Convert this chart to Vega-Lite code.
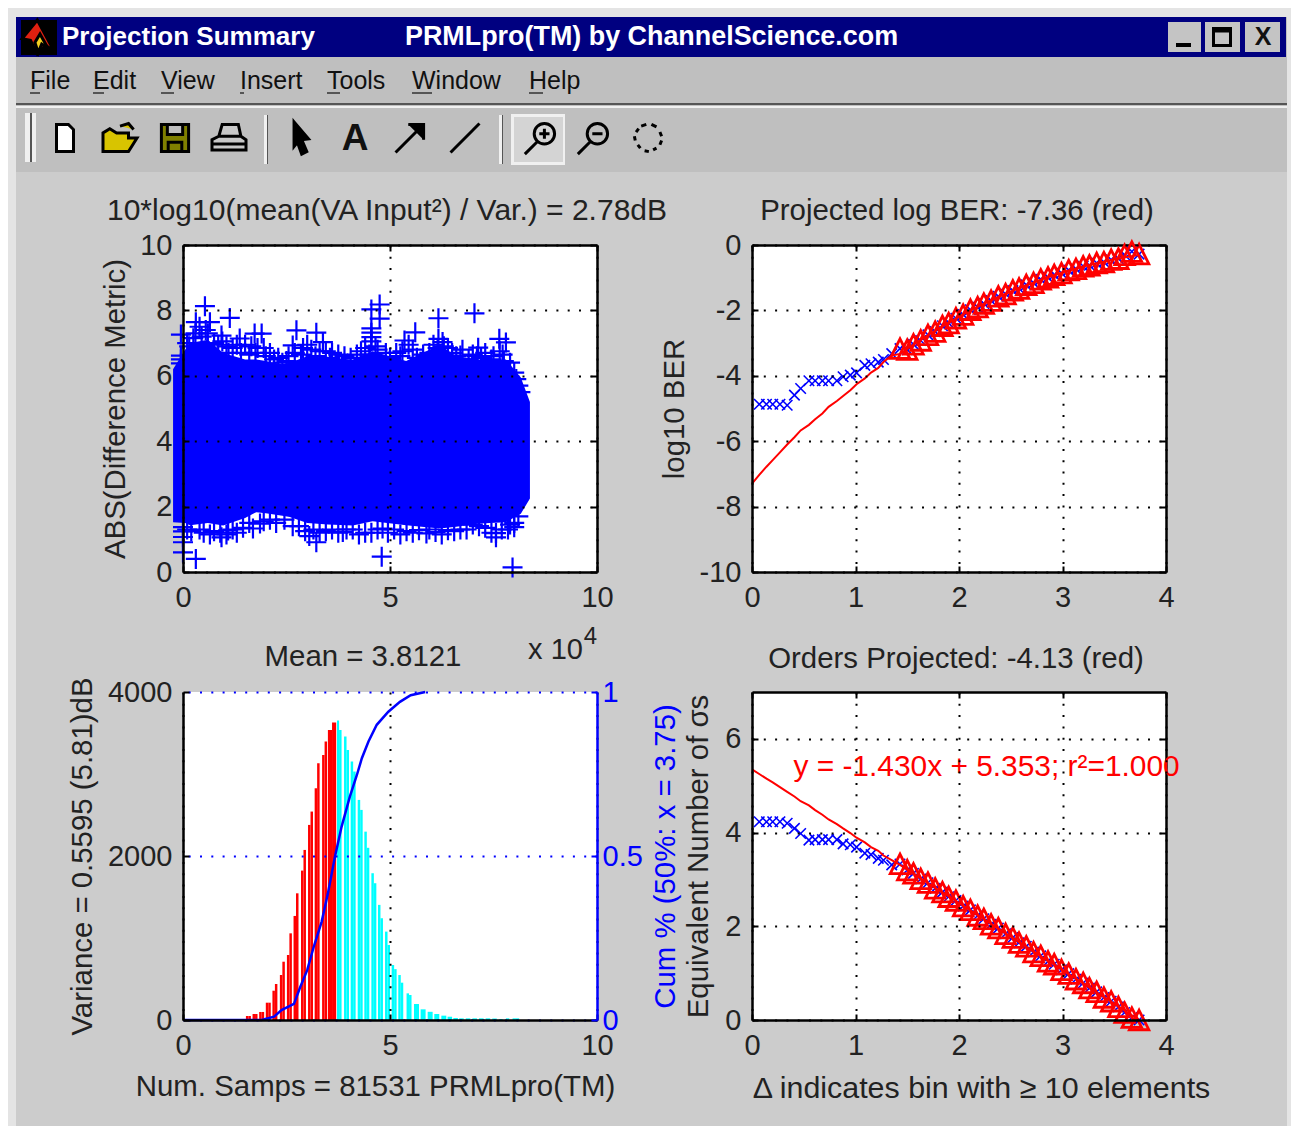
{
"$schema":"https://vega.github.io/schema/vega-lite/v6.json",
"background":"white","padding":0,"bounds":"flush","spacing":120,
"config":{"view":{"stroke":null},"font":"Liberation Sans",
"axis":{"labelFont":"Liberation Sans","labelFontSize":29,"labelColor":"#222222","labelExpr":"toString(datum.value)","titleFont":"Liberation Sans","titleFontSize":29.4,"titleFontWeight":"normal","titleColor":"#222222","tickColor":"#000000","tickWidth":2,"tickSize":-6,"domainColor":"#000000","domainWidth":2.5,"labelFlush":false,"labelOverlap":false,"labelBound":false,"gridColor":"#000000","gridWidth":2,"gridDash":[2,9.3],"gridOpacity":1},
"title":{"font":"Liberation Sans","fontSize":29.4,"fontWeight":"normal","color":"#222222"},
"text":{"font":"Liberation Sans"}},
"datasets":{
"trend":[
{"x":0,"ber":null,"berfit":-7.3,"sig":null,"sigfit":5.35},
{"x":0.07,"ber":-4.87,"berfit":-7.03,"sig":4.23,"sigfit":5.25},
{"x":0.14,"ber":-4.87,"berfit":-6.78,"sig":4.23,"sigfit":5.15},
{"x":0.2,"ber":-4.87,"berfit":-6.58,"sig":4.23,"sigfit":5.07},
{"x":0.27,"ber":-4.87,"berfit":-6.34,"sig":4.23,"sigfit":4.97},
{"x":0.34,"ber":-4.9,"berfit":-6.1,"sig":4.2,"sigfit":4.87},
{"x":0.41,"ber":-4.59,"berfit":-5.88,"sig":4.09,"sigfit":4.77},
{"x":0.47,"ber":-4.39,"berfit":-5.67,"sig":3.98,"sigfit":4.67},
{"x":0.55,"ber":-4.15,"berfit":-5.5,"sig":3.84,"sigfit":4.58},
{"x":0.61,"ber":-4.15,"berfit":-5.33,"sig":3.85,"sigfit":4.48},
{"x":0.68,"ber":-4.15,"berfit":-5.15,"sig":3.85,"sigfit":4.38},
{"x":0.74,"ber":-4.15,"berfit":-4.95,"sig":3.85,"sigfit":4.28},
{"x":0.82,"ber":-4.15,"berfit":-4.77,"sig":3.85,"sigfit":4.18},
{"x":0.88,"ber":-4.03,"berfit":-4.62,"sig":3.76,"sigfit":4.09},
{"x":0.95,"ber":-3.98,"berfit":-4.44,"sig":3.74,"sigfit":3.99},
{"x":1.01,"ber":-3.91,"berfit":-4.26,"sig":3.69,"sigfit":3.89},
{"x":1.09,"ber":-3.68,"berfit":-4.08,"sig":3.56,"sigfit":3.79},
{"x":1.15,"ber":-3.63,"berfit":-3.9,"sig":3.53,"sigfit":3.69},
{"x":1.22,"ber":-3.58,"berfit":-3.76,"sig":3.45,"sigfit":3.61},
{"x":1.27,"ber":-3.5,"berfit":-3.58,"sig":3.41,"sigfit":3.51},
{"x":1.35,"ber":-3.32,"berfit":-3.38,"sig":3.31,"sigfit":3.41},
{"x":1.43,"ber":-3.17,"berfit":-3.33,"sig":3.33,"sigfit":3.31},
{"x":1.5,"ber":-3.2,"berfit":-3.18,"sig":3.2,"sigfit":3.21},
{"x":1.56,"ber":-3.04,"berfit":-3.05,"sig":3.13,"sigfit":3.12},
{"x":1.63,"ber":-2.92,"berfit":-2.9,"sig":3.01,"sigfit":3.02},
{"x":1.7,"ber":-2.75,"berfit":-2.76,"sig":2.93,"sigfit":2.92},
{"x":1.77,"ber":-2.65,"berfit":-2.63,"sig":2.81,"sigfit":2.82},
{"x":1.84,"ber":-2.47,"berfit":-2.49,"sig":2.73,"sigfit":2.72},
{"x":1.9,"ber":-2.39,"berfit":-2.38,"sig":2.63,"sigfit":2.64},
{"x":1.97,"ber":-2.24,"berfit":-2.25,"sig":2.55,"sigfit":2.54},
{"x":2.04,"ber":-2.13,"berfit":-2.12,"sig":2.43,"sigfit":2.44},
{"x":2.11,"ber":-1.98,"berfit":-2,"sig":2.35,"sigfit":2.34},
{"x":2.18,"ber":-1.9,"berfit":-1.89,"sig":2.23,"sigfit":2.24},
{"x":2.24,"ber":-1.79,"berfit":-1.8,"sig":2.16,"sigfit":2.15},
{"x":2.31,"ber":-1.7,"berfit":-1.69,"sig":2.04,"sigfit":2.05},
{"x":2.38,"ber":-1.57,"berfit":-1.59,"sig":1.96,"sigfit":1.95},
{"x":2.45,"ber":-1.5,"berfit":-1.49,"sig":1.84,"sigfit":1.85},
{"x":2.52,"ber":-1.39,"berfit":-1.4,"sig":1.76,"sigfit":1.75},
{"x":2.58,"ber":-1.33,"berfit":-1.32,"sig":1.65,"sigfit":1.66},
{"x":2.65,"ber":-1.22,"berfit":-1.23,"sig":1.57,"sigfit":1.56},
{"x":2.72,"ber":-1.16,"berfit":-1.15,"sig":1.45,"sigfit":1.46},
{"x":2.79,"ber":-1.05,"berfit":-1.06,"sig":1.37,"sigfit":1.36},
{"x":2.86,"ber":-0.99,"berfit":-0.98,"sig":1.25,"sigfit":1.26},
{"x":2.92,"ber":-0.91,"berfit":-0.92,"sig":1.19,"sigfit":1.18},
{"x":2.99,"ber":-0.86,"berfit":-0.85,"sig":1.07,"sigfit":1.08},
{"x":3.06,"ber":-0.77,"berfit":-0.78,"sig":0.99,"sigfit":0.98},
{"x":3.13,"ber":-0.73,"berfit":-0.72,"sig":0.87,"sigfit":0.88},
{"x":3.2,"ber":-0.65,"berfit":-0.66,"sig":0.79,"sigfit":0.78},
{"x":3.26,"ber":-0.62,"berfit":-0.61,"sig":0.68,"sigfit":0.69},
{"x":3.33,"ber":-0.55,"berfit":-0.56,"sig":0.6,"sigfit":0.59},
{"x":3.4,"ber":-0.52,"berfit":-0.51,"sig":0.48,"sigfit":0.49},
{"x":3.47,"ber":-0.45,"berfit":-0.46,"sig":0.4,"sigfit":0.39},
{"x":3.54,"ber":-0.42,"berfit":-0.42,"sig":0.28,"sigfit":0.29},
{"x":3.6,"ber":-0.3,"berfit":-0.38,"sig":0.16,"sigfit":0.2},
{"x":3.67,"ber":-0.2,"berfit":-0.34,"sig":0.05,"sigfit":0.1},
{"x":3.74,"ber":-0.28,"berfit":-0.3,"sig":0,"sigfit":0}
],
"hist":[
{"a":1.52,"b":1.58,"n":49,"side":"below"},{"a":1.58,"b":1.64,"n":49,"side":"below"},
{"a":1.68,"b":1.74,"n":73,"side":"below"},{"a":1.74,"b":1.8,"n":73,"side":"below"},
{"a":1.84,"b":1.9,"n":98,"side":"below"},{"a":1.9,"b":1.96,"n":98,"side":"below"},
{"a":2,"b":2.06,"n":211,"side":"below"},{"a":2.06,"b":2.12,"n":211,"side":"below"},
{"a":2.16,"b":2.22,"n":357,"side":"below"},{"a":2.22,"b":2.28,"n":439,"side":"below"},
{"a":2.34,"b":2.4,"n":549,"side":"below"},{"a":2.4,"b":2.46,"n":711,"side":"below"},
{"a":2.51,"b":2.57,"n":793,"side":"below"},{"a":2.57,"b":2.63,"n":1057,"side":"below"},
{"a":2.67,"b":2.73,"n":1269,"side":"below"},{"a":2.73,"b":2.79,"n":1545,"side":"below"},
{"a":2.85,"b":2.91,"n":1822,"side":"below"},{"a":2.91,"b":2.97,"n":2074,"side":"below"},
{"a":3.02,"b":3.08,"n":2379,"side":"below"},{"a":3.08,"b":3.14,"n":2542,"side":"below"},
{"a":3.18,"b":3.24,"n":2826,"side":"below"},{"a":3.24,"b":3.3,"n":3131,"side":"below"},
{"a":3.36,"b":3.42,"n":3233,"side":"below"},{"a":3.42,"b":3.48,"n":3396,"side":"below"},
{"a":3.5,"b":3.6,"n":3538,"side":"below"},{"a":3.6,"b":3.7,"n":3628,"side":"below"},
{"a":3.72,"b":3.77,"n":3652,"side":"above"},{"a":3.77,"b":3.83,"n":3538,"side":"above"},
{"a":3.89,"b":3.95,"n":3457,"side":"above"},{"a":3.95,"b":4.01,"n":3294,"side":"above"},
{"a":4.05,"b":4.11,"n":3152,"side":"above"},{"a":4.11,"b":4.17,"n":3030,"side":"above"},
{"a":4.22,"b":4.28,"n":2684,"side":"above"},{"a":4.28,"b":4.34,"n":2562,"side":"above"},
{"a":4.38,"b":4.44,"n":2297,"side":"above"},{"a":4.44,"b":4.5,"n":2100,"side":"above"},
{"a":4.55,"b":4.61,"n":1790,"side":"above"},{"a":4.61,"b":4.67,"n":1668,"side":"above"},
{"a":4.71,"b":4.77,"n":1404,"side":"above"},{"a":4.77,"b":4.83,"n":1241,"side":"above"},
{"a":4.88,"b":4.94,"n":1078,"side":"above"},{"a":4.94,"b":5,"n":915,"side":"above"},
{"a":5.04,"b":5.1,"n":671,"side":"above"},{"a":5.1,"b":5.16,"n":620,"side":"above"},
{"a":5.2,"b":5.26,"n":549,"side":"above"},{"a":5.26,"b":5.32,"n":455,"side":"above"},
{"a":5.4,"b":5.46,"n":325,"side":"above"},{"a":5.46,"b":5.52,"n":305,"side":"above"},
{"a":5.58,"b":5.7,"n":195,"side":"above"},{"a":5.74,"b":5.86,"n":130,"side":"above"},
{"a":5.91,"b":6.03,"n":100,"side":"above"},{"a":6.07,"b":6.19,"n":73,"side":"above"},
{"a":6.24,"b":6.36,"n":53,"side":"above"},{"a":6.39,"b":6.5,"n":40,"side":"above"},
{"a":6.53,"b":6.64,"n":24,"side":"above"},{"a":6.67,"b":6.78,"n":20,"side":"above"},
{"a":6.83,"b":6.94,"n":20,"side":"above"},{"a":6.99,"b":7.1,"n":20,"side":"above"},
{"a":7.15,"b":7.26,"n":20,"side":"above"},{"a":7.31,"b":7.42,"n":20,"side":"above"},
{"a":7.47,"b":7.58,"n":18,"side":"above"},{"a":7.64,"b":7.72,"n":12,"side":"above"},
{"a":7.8,"b":7.88,"n":20,"side":"above"},{"a":7.96,"b":8.12,"n":20,"side":"above"}
],
"cum":[
{"x":0,"p":0},{"x":1.9,"p":0},{"x":2.2,"p":0.01},{"x":2.38,"p":0.03},{"x":2.68,"p":0.049},{"x":2.83,"p":0.1},{"x":3.0,"p":0.152},{"x":3.16,"p":0.224},{"x":3.35,"p":0.3},{"x":3.5,"p":0.386},{"x":3.67,"p":0.498},{"x":3.83,"p":0.589},{"x":4.03,"p":0.681},{"x":4.2,"p":0.747},{"x":4.32,"p":0.798},{"x":4.48,"p":0.849},{"x":4.68,"p":0.9},{"x":4.96,"p":0.94},{"x":5.24,"p":0.97},{"x":5.5,"p":0.99},{"x":5.85,"p":1}
],
"band":[
{"x":-0.24,"lo":1.52,"hi":6.2},{"x":0.05,"lo":1.5,"hi":6.8},{"x":0.17,"lo":1.43,"hi":7},{"x":0.6,"lo":1.5,"hi":7.1},{"x":0.97,"lo":1.42,"hi":6.7},{"x":1.5,"lo":1.65,"hi":6.5},{"x":1.77,"lo":1.83,"hi":6.5},{"x":2.0,"lo":1.8,"hi":6.45},{"x":2.4,"lo":1.72,"hi":6.35},{"x":2.58,"lo":1.68,"hi":6.4},{"x":3.0,"lo":1.5,"hi":6.6},{"x":3.5,"lo":1.45,"hi":6.55},{"x":4.1,"lo":1.42,"hi":6.5},{"x":4.58,"lo":1.55,"hi":6.75},{"x":5.39,"lo":1.43,"hi":6.45},{"x":6.2,"lo":1.33,"hi":6.95},{"x":6.6,"lo":1.38,"hi":6.6},{"x":7.16,"lo":1.48,"hi":6.5},{"x":7.8,"lo":1.52,"hi":6.5},{"x":8.16,"lo":1.78,"hi":5.95},{"x":8.38,"lo":2.25,"hi":5.2}
],
"plus":[
{"x":0.53,"y":8.13},{"x":1.13,"y":7.77},{"x":-0.05,"y":7.26},{"x":0.31,"y":0.4},{"x":0,"y":0.6},{"x":0,"y":0.91},{"x":0,"y":1.07},{"x":0,"y":1.24},{"x":0,"y":1.37},{"x":-0.05,"y":6.62},{"x":-0.05,"y":6.5},{"x":-0.05,"y":6.38},{"x":0.93,"y":1.06},{"x":1.09,"y":1.27},{"x":1.69,"y":1.33},{"x":1.86,"y":1.48},{"x":3.22,"y":0.91},{"x":3.05,"y":1.1},{"x":3.86,"y":1.22},{"x":2.74,"y":7.39},{"x":3.22,"y":7.32},{"x":1.9,"y":7.29},{"x":1.73,"y":7.29},{"x":0.93,"y":7.23},{"x":1.37,"y":7.14},{"x":2.65,"y":6.93},{"x":3.38,"y":7.03},{"x":0.31,"y":7.64},{"x":0.65,"y":7.64},{"x":0.4,"y":7.5},{"x":0.55,"y":7.4},{"x":0.6,"y":7.3},{"x":0.95,"y":7.05},{"x":4.75,"y":8.18},{"x":4.55,"y":8.03},{"x":4.75,"y":7.75},{"x":4.55,"y":7.45},{"x":4.55,"y":7.32},{"x":4.55,"y":7.18},{"x":4.55,"y":7.05},{"x":7.04,"y":7.91},{"x":6.17,"y":7.76},{"x":5.61,"y":7.33},{"x":5.35,"y":7.08},{"x":7.64,"y":7.13},{"x":7.8,"y":7.02},{"x":7.72,"y":6.65},{"x":7.13,"y":6.86},{"x":6.27,"y":7.03},{"x":6.17,"y":7.13},{"x":4.8,"y":0.47},{"x":7.96,"y":0.14},{"x":7.56,"y":1.06},{"x":7.56,"y":1.19},{"x":5.88,"y":1.18},{"x":8,"y":1.37},{"x":4.82,"y":1.33},{"x":6.7,"y":6.62},
{"x":0.1,"y":7},{"x":0.3,"y":7.3},{"x":0.75,"y":7},{"x":1.05,"y":6.9},{"x":1.2,"y":6.85},{"x":1.5,"y":6.95},{"x":1.65,"y":6.9},{"x":1.8,"y":6.85},{"x":2,"y":6.6},{"x":2.2,"y":6.5},{"x":2.4,"y":6.4},{"x":2.55,"y":6.6},{"x":2.9,"y":6.85},{"x":3.1,"y":6.8},{"x":3.3,"y":6.75},{"x":3.6,"y":6.7},{"x":3.9,"y":6.6},{"x":4.2,"y":6.65},{"x":4.4,"y":6.85},{"x":4.7,"y":6.8},{"x":5,"y":6.55},{"x":5.3,"y":6.75},{"x":5.55,"y":6.8},{"x":5.8,"y":6.65},{"x":6.05,"y":6.95},{"x":6.4,"y":6.85},{"x":6.6,"y":6.6},{"x":6.9,"y":6.5},{"x":7.2,"y":6.55},{"x":7.5,"y":6.6},{"x":7.9,"y":6.4},{"x":8,"y":6.1},{"x":8.1,"y":5.7},
{"x":0.1,"y":1.3},{"x":0.5,"y":1.2},{"x":0.75,"y":1.25},{"x":1.2,"y":1.3},{"x":1.45,"y":1.35},{"x":2.1,"y":1.6},{"x":2.45,"y":1.6},{"x":2.8,"y":1.4},{"x":3.3,"y":1.2},{"x":3.6,"y":1.3},{"x":4.1,"y":1.3},{"x":4.4,"y":1.2},{"x":5.1,"y":1.3},{"x":5.4,"y":1.25},{"x":5.7,"y":1.28},{"x":6.1,"y":1.22},{"x":6.4,"y":1.28},{"x":6.7,"y":1.3},{"x":7,"y":1.45},{"x":7.3,"y":1.35},{"x":7.7,"y":1.3},{"x":7.9,"y":1.45},{"x":8.1,"y":1.7},
{"x":0.15,"y":6.9},{"x":0.25,"y":7.15},{"x":0.45,"y":7.2},{"x":0.85,"y":6.95},{"x":1.1,"y":6.7},{"x":1.3,"y":6.95},{"x":1.4,"y":6.7},{"x":1.6,"y":6.65},{"x":1.75,"y":6.7},{"x":1.95,"y":6.85},{"x":2.1,"y":6.7},{"x":2.3,"y":6.55},{"x":2.5,"y":6.45},{"x":2.7,"y":6.7},{"x":2.85,"y":6.65},{"x":3,"y":6.95},{"x":3.2,"y":6.6},{"x":3.45,"y":6.75},{"x":3.55,"y":6.55},{"x":3.75,"y":6.65},{"x":4.05,"y":6.55},{"x":4.3,"y":6.75},{"x":4.5,"y":6.65},{"x":4.65,"y":6.9},{"x":4.9,"y":6.7},{"x":5.15,"y":6.7},{"x":5.25,"y":6.6},{"x":5.45,"y":6.95},{"x":5.65,"y":6.55},{"x":5.95,"y":6.7},{"x":6.15,"y":6.85},{"x":6.3,"y":6.9},{"x":6.5,"y":6.7},{"x":6.75,"y":6.8},{"x":7,"y":6.65},{"x":7.1,"y":6.6},{"x":7.3,"y":6.7},{"x":7.45,"y":6.5},{"x":7.65,"y":6.75},{"x":7.75,"y":6.45},{"x":8.05,"y":5.9},{"x":8.15,"y":5.5},
{"x":0.2,"y":1.25},{"x":0.4,"y":1.3},{"x":0.65,"y":1.15},{"x":0.9,"y":1.2},{"x":1.05,"y":1.15},{"x":1.3,"y":1.2},{"x":1.6,"y":1.5},{"x":1.95,"y":1.55},{"x":2.25,"y":1.5},{"x":2.65,"y":1.4},{"x":2.95,"y":1.25},{"x":3.15,"y":1.3},{"x":3.45,"y":1.25},{"x":3.75,"y":1.2},{"x":3.95,"y":1.3},{"x":4.25,"y":1.15},{"x":4.55,"y":1.2},{"x":4.7,"y":1.3},{"x":4.95,"y":1.2},{"x":5.25,"y":1.15},{"x":5.55,"y":1.2},{"x":5.95,"y":1.3},{"x":6.25,"y":1.15},{"x":6.55,"y":1.25},{"x":6.85,"y":1.3},{"x":7.15,"y":1.4},{"x":7.45,"y":1.2},{"x":7.85,"y":1.3},{"x":8,"y":1.5}
]
},
"vconcat":[
{"width":1292,"height":125,
"layer":[
{"data":{"values":[
{"part":"edge","x":8,"x2":1291,"y":8,"y2":1126},
{"part":"chrome","x":16,"x2":1287,"y":17,"y2":1126},
{"part":"figure","x":16,"x2":1287,"y":172,"y2":1126},
{"part":"bar","x":16,"x2":1286,"y":17,"y2":57},
{"part":"dark","x":16,"x2":1287,"y":103,"y2":105},
{"part":"light","x":16,"x2":1287,"y":106,"y2":108},
{"part":"black","x":21,"x2":57,"y":20,"y2":55},
{"part":"button","x":1168,"x2":1201,"y":22,"y2":52},
{"part":"button","x":1205,"x2":1240,"y":22,"y2":52},
{"part":"button","x":1245,"x2":1280,"y":22,"y2":52},
{"part":"black","x":1176,"x2":1191,"y":43,"y2":47},
{"part":"dark","x":30,"x2":40,"y":92,"y2":94},
{"part":"dark","x":93,"x2":104,"y":92,"y2":94},
{"part":"dark","x":161,"x2":174,"y":92,"y2":94},
{"part":"dark","x":240,"x2":244,"y":92,"y2":94},
{"part":"dark","x":327,"x2":340,"y":92,"y2":94},
{"part":"dark","x":412,"x2":432,"y":92,"y2":94},
{"part":"dark","x":529,"x2":543,"y":92,"y2":94},
{"part":"light","x":25,"x2":30,"y":113,"y2":162},
{"part":"dark","x":30,"x2":32,"y":113,"y2":162},
{"part":"light","x":32,"x2":36,"y":113,"y2":162},
{"part":"light","x":264,"x2":267,"y":115,"y2":164},
{"part":"dark","x":267,"x2":268,"y":115,"y2":164},
{"part":"light","x":499,"x2":502,"y":115,"y2":164},
{"part":"dark","x":502,"x2":503,"y":115,"y2":164},
{"part":"light","x":511,"x2":565,"y":114,"y2":165},
{"part":"pressed","x":514,"x2":563,"y":117,"y2":162}
]},
"mark":{"type":"rect"},
"encoding":{
"x":{"field":"x","type":"quantitative","axis":null,"scale":{"domain":[0,1292],"range":[0,1292],"nice":false,"zero":false}},
"x2":{"field":"x2"},
"y":{"field":"y","type":"quantitative","axis":null,"scale":{"domain":[0,125],"range":[0,125],"nice":false,"zero":false}},
"y2":{"field":"y2"},
"color":{"field":"part","type":"nominal","legend":null,"scale":{"domain":["edge","chrome","figure","bar","dark","light","black","button","pressed"],"range":["#e4e4e4","#bfbfbf","#cccccc","#000080","#555555","#f0f0f0","#000000","#c4c4c4","#d4d4d4"]}}
}},
{"data":{"values":[
{"icon":"flame","x":39,"y":37},{"icon":"flame2","x":40,"y":39},
{"icon":"restore","x":1222,"y":37},
{"icon":"doc","x":65,"y":138},{"icon":"folder","x":120,"y":138},{"icon":"save","x":175,"y":138},{"icon":"print","x":229,"y":138},
{"icon":"pointer","x":300,"y":138},{"icon":"arrow","x":410,"y":138},{"icon":"line","x":465,"y":138},
{"icon":"zoomin","x":541,"y":138},{"icon":"zoomout","x":594,"y":138},{"icon":"rotate","x":648,"y":138}
]},
"mark":{"type":"point","filled":true,"strokeWidth":3,"size":1156,"stroke":"#000000","opacity":1},
"encoding":{
"x":{"field":"x","type":"quantitative","axis":null,"scale":{"domain":[0,1292],"range":[0,1292],"nice":false,"zero":false}},
"y":{"field":"y","type":"quantitative","axis":null,"scale":{"domain":[0,125],"range":[0,125],"nice":false,"zero":false}},
"shape":{"field":"icon","type":"nominal","legend":null,"scale":{"domain":["flame","flame2","restore","doc","folder","save","print","pointer","arrow","line","zoomin","zoomout","rotate"],"range":[
"M-0.1,-1L0.9,0.85L0.4,0.5L-0.1,1L-0.5,0.2L-1,0.1Z",
"M0,-0.3L0.5,0.6L0.1,0.3L-0.1,0.8L-0.3,0.2Z",
"M-0.5,-0.5L0.5,-0.5L0.5,0.5L-0.5,0.5ZM-0.5,-0.35L0.5,-0.35",
"M-0.5,-0.8L0.2,-0.8L0.5,-0.5L0.5,0.8L-0.5,0.8Z",
"M-1,0.8L-1,-0.3L-0.6,-0.55L-0.2,-0.3L0.5,-0.3L0.5,0L1,0L0.5,0.8ZM0,-0.7L0.5,-0.85L0.8,-0.5",
"M-0.8,-0.8L0.8,-0.8L0.8,0.8L-0.8,0.8ZM-0.45,-0.8L-0.45,-0.2L0.45,-0.2L0.45,-0.8M-0.4,0.25L0.4,0.25L0.4,0.8L-0.4,0.8Z",
"M-0.6,-0.1L-0.4,-0.8L0.55,-0.8L0.7,-0.1L1,0.1L1,0.7L-1,0.7L-1,0.1ZM-0.6,-0.1L0.7,-0.1M-1,0.35L1,0.35",
"M-0.35,-0.95L0.5,0.05L0.1,0.1L0.4,0.8L0.1,0.95L-0.15,0.25L-0.35,0.5Z",
"M-0.85,0.85L0.75,-0.75M-0.1,-0.8L0.8,-0.8L0.8,0.1",
"M-0.85,0.85L0.85,-0.85",
"M-0.95,0.95L-0.25,0.25M-0.4,-0.25A0.6,0.6 0 1 1 0.8,-0.25A0.6,0.6 0 1 1 -0.4,-0.25ZM-0.1,-0.25L0.5,-0.25M0.2,-0.55L0.2,0.05",
"M-0.95,0.95L-0.25,0.25M-0.4,-0.25A0.6,0.6 0 1 1 0.8,-0.25A0.6,0.6 0 1 1 -0.4,-0.25ZM-0.1,-0.25L0.5,-0.25",
"M-0.4,-0.7L-0.1,-0.8M0.2,-0.8L0.5,-0.65M0.7,-0.35L0.8,-0.1M0.8,0.15L0.7,0.4M0.5,0.6L0.3,0.7M0.05,0.8L-0.2,0.75M-0.45,0.6L-0.6,0.4M-0.75,0.15L-0.8,-0.1M-0.7,-0.35L-0.55,-0.55"
]}},
"fill":{"field":"icon","type":"nominal","legend":null,"scale":{"domain":["flame","flame2","restore","doc","folder","save","print","pointer","arrow","line","zoomin","zoomout","rotate"],"range":["#e02010","#f4d020","#c4c4c4","#ffffff","#d8c400","#808000","#c8c8c8","#000000","#000000","#000000","#d4d4d4","#bfbfbf","#bfbfbf"]}}
}},
{"data":{"values":[{"label":"Projection Summary","x":62,"y":37}]},
"mark":{"type":"text","align":"left","baseline":"middle","fontSize":26,"fontWeight":"bold","color":"#ffffff"},
"encoding":{
"x":{"field":"x","type":"quantitative","axis":null,"scale":{"domain":[0,1292],"range":[0,1292],"nice":false,"zero":false}},
"y":{"field":"y","type":"quantitative","axis":null,"scale":{"domain":[0,125],"range":[0,125],"nice":false,"zero":false}},
"text":{"field":"label"}}},
{"data":{"values":[{"label":"PRMLpro(TM) by ChannelScience.com","x":405,"y":37}]},
"mark":{"type":"text","align":"left","baseline":"middle","fontSize":26.9,"fontWeight":"bold","color":"#ffffff"},
"encoding":{
"x":{"field":"x","type":"quantitative","axis":null,"scale":{"domain":[0,1292],"range":[0,1292],"nice":false,"zero":false}},
"y":{"field":"y","type":"quantitative","axis":null,"scale":{"domain":[0,125],"range":[0,125],"nice":false,"zero":false}},
"text":{"field":"label"}}},
{"data":{"values":[
{"label":"File","x":30,"y":81},{"label":"Edit","x":93,"y":81},{"label":"View","x":161,"y":81},{"label":"Insert","x":240,"y":81},{"label":"Tools","x":327,"y":81},{"label":"Window","x":412,"y":81},{"label":"Help","x":529,"y":81}
]},
"mark":{"type":"text","align":"left","baseline":"middle","fontSize":25,"color":"#111111"},
"encoding":{
"x":{"field":"x","type":"quantitative","axis":null,"scale":{"domain":[0,1292],"range":[0,1292],"nice":false,"zero":false}},
"y":{"field":"y","type":"quantitative","axis":null,"scale":{"domain":[0,125],"range":[0,125],"nice":false,"zero":false}},
"text":{"field":"label"}}},
{"data":{"values":[{"label":"A","x":355,"y":139}]},
"mark":{"type":"text","align":"center","baseline":"middle","fontSize":37,"fontWeight":"bold","color":"#111111"},
"encoding":{
"x":{"field":"x","type":"quantitative","axis":null,"scale":{"domain":[0,1292],"range":[0,1292],"nice":false,"zero":false}},
"y":{"field":"y","type":"quantitative","axis":null,"scale":{"domain":[0,125],"range":[0,125],"nice":false,"zero":false}},
"text":{"field":"label"}}},
{"data":{"values":[{"label":"X","x":1263,"y":37}]},
"mark":{"type":"text","align":"center","baseline":"middle","fontSize":25,"fontWeight":"bold","color":"#111111"},
"encoding":{
"x":{"field":"x","type":"quantitative","axis":null,"scale":{"domain":[0,1292],"range":[0,1292],"nice":false,"zero":false}},
"y":{"field":"y","type":"quantitative","axis":null,"scale":{"domain":[0,125],"range":[0,125],"nice":false,"zero":false}},
"text":{"field":"label"}}}
]},
{"bounds":"flush","spacing":155,"hconcat":[
{"width":28,"height":10,"data":{"values":[]},"mark":{"type":"rect"},"encoding":{}},
{"width":414,"height":327,"view":{"fill":"#ffffff","stroke":null},
"title":{"text":"10*log10(mean(VA Input²) / Var.) = 2.78dB","offset":5,"dx":-3,"fontSize":30},
"resolve":{"scale":{"x":"independent","y":"independent"}},
"layer":[
{"data":{"values":[{"x":0,"y":0}]},"mark":{"type":"point","opacity":0},
"encoding":{
"x":{"field":"x","type":"quantitative","scale":{"domain":[0,10],"nice":false},"axis":{"orient":"top","labels":false,"title":null,"values":[0,5,10],"grid":false}},
"y":{"field":"y","type":"quantitative","scale":{"domain":[0,10],"nice":false},"axis":{"orient":"right","labels":false,"title":null,"values":[0,2,4,6,8,10],"grid":false}}}},
{"layer":[
{"data":{"name":"band"},"mark":{"type":"area","color":"#0000ff","clip":false,"opacity":1},
"encoding":{
"x":{"field":"x","type":"quantitative","scale":{"domain":[0,10],"nice":false},"axis":{"orient":"bottom","title":null,"values":[0,5,10],"grid":true,"zindex":1,"labelPadding":17}},
"y":{"field":"lo","type":"quantitative","scale":{"domain":[0,10],"nice":false},"axis":{"orient":"left","title":"ABS(Difference Metric)","values":[0,2,4,6,8,10],"grid":true,"zindex":1,"labelPadding":17,"titlePadding":9}},
"y2":{"field":"hi"}}},
{"data":{"name":"plus"},"mark":{"type":"point","shape":"M-1,0L1,0M0,-1L0,1","filled":false,"color":"#0000ff","strokeWidth":2.2,"size":400,"opacity":1},
"encoding":{"x":{"field":"x","type":"quantitative"},"y":{"field":"y","type":"quantitative"}}},
{"data":{"values":[{"x":9.66,"y":-2.4,"label":"x 10"}]},"mark":{"type":"text","align":"right","baseline":"middle","fontSize":29,"color":"#222222"},
"encoding":{"x":{"field":"x","type":"quantitative"},"y":{"field":"y","type":"quantitative"},"text":{"field":"label"}}},
{"data":{"values":[{"x":10,"y":-2,"label":"4"}]},"mark":{"type":"text","align":"right","baseline":"middle","fontSize":24,"color":"#222222"},
"encoding":{"x":{"field":"x","type":"quantitative"},"y":{"field":"y","type":"quantitative"},"text":{"field":"label"}}}
]}
]},
{"width":414,"height":327,"view":{"fill":"#ffffff","stroke":null},
"title":{"text":"Projected log BER: -7.36 (red)","offset":5,"dx":-2},
"resolve":{"scale":{"x":"independent","y":"independent"}},
"layer":[
{"data":{"values":[{"x":0,"y":0}]},"mark":{"type":"point","opacity":0},
"encoding":{
"x":{"field":"x","type":"quantitative","scale":{"domain":[0,4],"nice":false},"axis":{"orient":"top","labels":false,"title":null,"values":[0,1,2,3,4],"grid":false}},
"y":{"field":"y","type":"quantitative","scale":{"domain":[-10,0],"nice":false},"axis":{"orient":"right","labels":false,"title":null,"values":[-10,-8,-6,-4,-2,0],"grid":false}}}},
{"data":{"name":"trend"},"layer":[
{"mark":{"type":"point","shape":"M-1,-1L1,1M1,-1L-1,1","filled":false,"color":"#0000ff","strokeWidth":1.6,"size":110,"opacity":1},
"encoding":{
"x":{"field":"x","type":"quantitative","scale":{"domain":[0,4],"nice":false},"axis":{"orient":"bottom","title":null,"values":[0,1,2,3,4],"grid":true,"zindex":1,"labelPadding":17}},
"y":{"field":"ber","type":"quantitative","scale":{"domain":[-10,0],"nice":false},"axis":{"orient":"left","title":"log10 BER","values":[-10,-8,-6,-4,-2,0],"grid":true,"zindex":1,"labelPadding":17,"titlePadding":10}}}},
{"transform":[{"filter":"datum.x >= 1.4"}],"mark":{"type":"point","shape":"M0,-1L1,1L-1,1Z","filled":false,"color":"#ff0000","strokeWidth":2.8,"size":380,"opacity":1},
"encoding":{"x":{"field":"x","type":"quantitative"},"y":{"field":"ber","type":"quantitative"}}},
{"mark":{"type":"line","color":"#ff0000","strokeWidth":2},
"encoding":{"x":{"field":"x","type":"quantitative"},"y":{"field":"berfit","type":"quantitative"}}}
]}
]}
]},
{"width":10,"height":207,"data":{"values":[]},"mark":{"type":"rect"},"encoding":{}},
{"bounds":"flush","spacing":155,"hconcat":[
{"width":28,"height":10,"data":{"values":[]},"mark":{"type":"rect"},"encoding":{}},
{"width":414,"height":328,"view":{"fill":"#ffffff","stroke":null},
"title":{"text":"Mean = 3.8121","offset":5,"dx":-27},
"resolve":{"scale":{"y":"independent"}},
"layer":[
{"data":{"name":"hist"},"transform":[{"filter":"datum.side == 'below'"}],"mark":{"type":"rect","color":"#ff0000"},
"encoding":{
"x":{"field":"a","type":"quantitative","scale":{"domain":[0,10],"nice":false},"axis":{"orient":"bottom","title":"Num. Samps = 81531   PRMLpro(TM)","titleX":192,"values":[0,5,10],"grid":true,"zindex":1,"labelPadding":17,"titlePadding":12}},
"x2":{"field":"b"},
"y":{"field":"n","type":"quantitative","scale":{"domain":[0,4000],"nice":false},"axis":{"orient":"left","title":"Variance = 0.5595 (5.81)dB","values":[0,2000,4000],"grid":false,"zindex":1,"labelPadding":17,"titlePadding":10}},
"y2":{"datum":0}}},
{"data":{"name":"hist"},"transform":[{"filter":"datum.side == 'above'"}],"mark":{"type":"rect","color":"#00ffff"},
"encoding":{
"x":{"field":"a","type":"quantitative"},
"x2":{"field":"b"},
"y":{"field":"n","type":"quantitative","scale":{"domain":[0,4000],"nice":false},"axis":null},
"y2":{"datum":0}}},
{"data":{"name":"cum"},"mark":{"type":"line","color":"#0000ff","strokeWidth":2.5},
"encoding":{
"x":{"field":"x","type":"quantitative"},
"y":{"field":"p","type":"quantitative","scale":{"domain":[0,1],"nice":false},"axis":{"orient":"right","title":null,"values":[0,0.5,1],"grid":true,"gridColor":"#0000ff","domainColor":"#0000ff","tickColor":"#0000ff","labelColor":"#0000ff","labelPadding":11,"zindex":1}}}}
]},
{"width":414,"height":328,"view":{"fill":"#ffffff","stroke":null},
"title":{"text":"Orders Projected: -4.13 (red)","offset":17,"dx":-3},
"resolve":{"scale":{"x":"independent","y":"independent"}},
"layer":[
{"data":{"values":[{"x":0,"y":0}]},"mark":{"type":"point","opacity":0},
"encoding":{
"x":{"field":"x","type":"quantitative","scale":{"domain":[0,4],"nice":false},"axis":{"orient":"top","labels":false,"title":null,"values":[0,1,2,3,4],"grid":false}},
"y":{"field":"y","type":"quantitative","scale":{"domain":[0,7],"nice":false},"axis":{"orient":"right","labels":false,"title":null,"values":[0,2,4,6],"grid":false}}}},
{"data":{"values":[{"x":0,"y":0}]},"mark":{"type":"point","opacity":0},
"encoding":{
"x":{"field":"x","type":"quantitative","scale":{"domain":[0,4],"nice":false},"axis":null},
"y":{"field":"y","type":"quantitative","scale":{"domain":[0,7],"nice":false},"axis":{"orient":"left","labels":false,"ticks":false,"domain":false,"grid":false,"title":"Cum % (50%: x = 3.75)","titleColor":"#0000ff","titlePadding":72}}}},
{"data":{"name":"trend"},"layer":[
{"mark":{"type":"point","shape":"M-1,-1L1,1M1,-1L-1,1","filled":false,"color":"#0000ff","strokeWidth":1.6,"size":110,"opacity":1},
"encoding":{
"x":{"field":"x","type":"quantitative","scale":{"domain":[0,4],"nice":false},"axis":{"orient":"bottom","title":"Δ indicates bin with ≥ 10 elements","titleFontSize":30.4,"titleX":229,"values":[0,1,2,3,4],"grid":true,"zindex":1,"labelPadding":17,"titlePadding":13}},
"y":{"field":"sig","type":"quantitative","scale":{"domain":[0,7],"nice":false},"axis":{"orient":"left","title":"Equivalent Number of σs","values":[0,2,4,6],"grid":true,"zindex":1,"labelPadding":17,"titlePadding":11}}}},
{"transform":[{"filter":"datum.x >= 1.4"}],"mark":{"type":"point","shape":"M0,-1L1,1L-1,1Z","filled":false,"color":"#ff0000","strokeWidth":2.8,"size":380,"opacity":1},
"encoding":{"x":{"field":"x","type":"quantitative"},"y":{"field":"sig","type":"quantitative"}}},
{"mark":{"type":"line","color":"#ff0000","strokeWidth":2},
"encoding":{"x":{"field":"x","type":"quantitative"},"y":{"field":"sigfit","type":"quantitative"}}},
{"data":{"values":[{"x":0.4,"y":5.4,"label":"y = -1.430x + 5.353; r²=1.000"}]},"mark":{"type":"text","align":"left","baseline":"middle","fontSize":29.9,"color":"#ff0000"},
"encoding":{"x":{"field":"x","type":"quantitative"},"y":{"field":"y","type":"quantitative"},"text":{"field":"label"}}}
]}
]}
]}
]}
